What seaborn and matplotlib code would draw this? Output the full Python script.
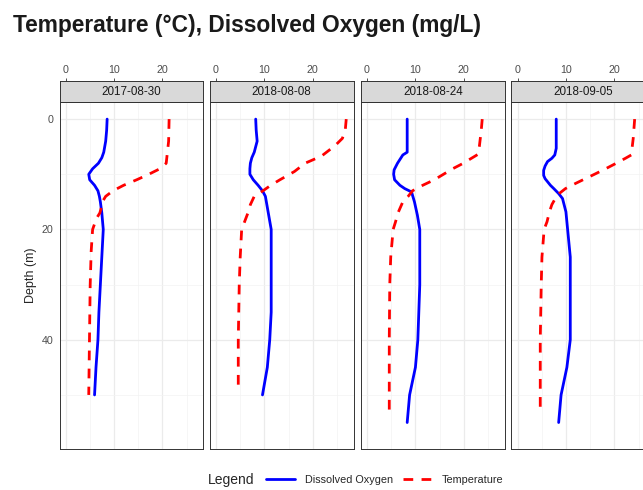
#%%
import numpy as np
import pandas as pd
import seaborn as sns
import matplotlib.pyplot as plt
from matplotlib.lines import Line2D
from matplotlib.ticker import MultipleLocator

sns.set_style("white")
plt.rcParams['font.family'] = ['Liberation Sans', 'DejaVu Sans']

#%%
# profiles, one per sampling date
dates = ["2017-08-30", "2018-08-08", "2018-08-24", "2018-09-05"]

do_depth = [
    [0, 2, 4, 6, 7, 8, 9, 10, 11, 12, 13, 14, 15, 17, 20, 25, 30, 35, 40, 45, 50],
    [0, 2, 4, 6, 7, 8, 9, 10, 11, 12, 13, 14, 20, 25, 30, 35, 40, 45, 50],
    [0, 6, 6.5, 8, 9.2, 10, 11, 12, 12.6, 13.2, 15, 17.4, 20, 30, 35, 40, 45, 50, 55],
    [0, 5.3, 6.5, 7.1, 7.7, 8.5, 9.3, 10.2, 10.8, 12, 12.6, 13.5, 14.4, 16.8, 20, 25, 30, 35, 40, 45, 50, 55],
]
do_vals = [
    [8.6, 8.5, 8.3, 7.9, 7.5, 6.8, 5.6, 4.8, 5.0, 6.0, 6.7, 7.0, 7.2, 7.5, 7.8, 7.5, 7.2, 6.9, 6.7, 6.3, 6.0],
    [8.2, 8.3, 8.5, 7.9, 7.4, 7.1, 7.0, 7.0, 7.7, 8.7, 9.6, 10.2, 11.4, 11.4, 11.4, 11.4, 11.1, 10.6, 9.6],
    [8.3, 8.3, 7.4, 6.3, 5.6, 5.5, 5.7, 6.8, 7.8, 9.2, 9.8, 10.4, 10.9, 10.9, 10.7, 10.5, 10.0, 8.8, 8.3],
    [8.0, 8.0, 7.7, 7.1, 6.2, 5.7, 5.4, 5.4, 5.7, 6.8, 7.5, 8.5, 9.3, 10.0, 10.35, 10.9, 10.9, 10.9, 10.9, 10.2, 9.0, 8.5],
]

temp_depth = [
    [0, 4, 8, 9, 10, 11, 12, 13, 14, 15, 16, 17, 18, 20, 24, 30, 40, 50],
    [0, 2, 3.5, 4.8, 6.7, 8, 9.5, 11, 12, 13, 14, 15.5, 17, 20, 25, 30, 40, 49],
    [0, 2, 5, 6.4, 7.3, 8, 9, 10, 11, 12, 13, 14, 15, 17, 18.6, 20, 25, 30, 40, 53.5],
    [0, 3.5, 6.5, 7.1, 8, 9, 10, 11.1, 12, 12.6, 13.5, 14.4, 15.5, 16.8, 18.6, 20, 25, 30, 40, 53.5],
]
temp_vals = [
    [21.4, 21.3, 20.8, 19.5, 17.2, 14.7, 12.0, 9.8, 8.3, 7.6, 7.4, 7.1, 6.4, 5.6, 5.3, 5.1, 4.95, 4.8],
    [26.9, 26.7, 26.1, 24.6, 21.8, 18.4, 16.2, 13.2, 11.3, 9.7, 7.9, 7.1, 6.6, 5.3, 5.0, 4.8, 4.6, 4.6],
    [23.8, 23.6, 23.2, 22.9, 21.2, 19.9, 17.7, 15.8, 13.9, 11.5, 9.4, 8.5, 7.4, 6.4, 5.9, 5.4, 4.9, 4.7, 4.6, 4.6],
    [24.2, 23.9, 23.5, 22.3, 20.4, 18.2, 15.9, 13.3, 11.2, 9.9, 8.6, 7.8, 7.1, 6.6, 6.1, 5.5, 5.05, 4.9, 4.7, 4.7],
]

rows = []
for i, d in enumerate(dates):
    for z, v in zip(do_depth[i], do_vals[i]):
        rows.append((d, "Dissolved Oxygen", z, v))
    for z, v in zip(temp_depth[i], temp_vals[i]):
        rows.append((d, "Temperature", z, v))
df = pd.DataFrame(rows, columns=["date", "variable", "depth", "value"])

#%%
W, H = 643, 490
fig = plt.figure(figsize=(W / 100, H / 100), dpi=100)

lefts = [59.5, 210, 361, 511.5]
pw = 143.5
top, bottom, strip_top = 102, 449, 81
edge = "#333333"
palette = {"Dissolved Oxygen": "blue", "Temperature": "red"}
dashes = {"Dissolved Oxygen": "", "Temperature": (3.5, 3)}

for i, d in enumerate(dates):
    ax = fig.add_axes([lefts[i] / W, 1 - bottom / H, pw / W, (bottom - top) / H])
    sub = df[df["date"] == d]
    sns.lineplot(data=sub, x="value", y="depth", hue="variable", style="variable",
                 palette=palette, dashes=dashes, sort=False, estimator=None,
                 linewidth=2.0, legend=False, ax=ax)
    ax.set_xlim(-1.24, 28.4)
    ax.set_ylim(59.8, -3.1)
    ax.xaxis.set_major_locator(MultipleLocator(10))
    ax.xaxis.set_minor_locator(MultipleLocator(5))
    ax.yaxis.set_major_locator(MultipleLocator(20))
    ax.yaxis.set_minor_locator(MultipleLocator(10))
    ax.grid(which="major", color="#EBEBEB", lw=0.9)
    ax.grid(which="minor", color="#F3F3F3", lw=0.5)
    ax.set_axisbelow(True)
    for s in ax.spines.values():
        s.set_color(edge)
        s.set_linewidth(0.7)
    ax.set_xlabel("")
    ax.set_ylabel("")
    ax.tick_params(axis="x", which="both", bottom=False, labelbottom=False)
    ax.tick_params(axis="y", which="minor", left=False)
    if i == 0:
        ax.tick_params(axis="y", which="major", length=2.5, width=0.6, color=edge,
                       labelsize=7.7, labelcolor="#4D4D4D", pad=2)
        ax.set_ylabel("Depth (m)", fontsize=9, labelpad=3)
    else:
        ax.tick_params(axis="y", which="both", left=False, labelleft=False)

    sax = fig.add_axes([lefts[i] / W, 1 - top / H, pw / W, (top - strip_top) / H])
    sax.set_facecolor("#D9D9D9")
    sax.set_xlim(-1.24, 28.4)
    sax.set_ylim(0, 1)
    sax.set_yticks([])
    sax.set_xticks([0, 10, 20])
    sax.xaxis.tick_top()
    sax.tick_params(axis="x", length=2.5, width=0.6, color=edge, labelsize=7.7,
                    labelcolor="#4D4D4D", pad=1.5)
    for s in sax.spines.values():
        s.set_color(edge)
        s.set_linewidth(0.7)
    sax.text(0.5, 0.5, d, transform=sax.transAxes, ha="center", va="center",
             fontsize=8.4, color="#1A1A1A")

fig.text(13 / W, 1 - 32 / H, "Temperature (°C), Dissolved Oxygen (mg/L)",
         fontsize=16.4, fontweight="bold", color="#1A1A1A", ha="left", va="baseline")

fig.text(208 / W, 1 - 480 / H, "Legend", fontsize=10, ha="left", va="center")
handles = [Line2D([], [], color="blue", lw=2.0),
           Line2D([], [], color="red", lw=2.0, dashes=(3.5, 3))]
fig.legend(handles, ["Dissolved Oxygen", "Temperature"], loc="center left",
           bbox_to_anchor=(266 / W, 1 - 480 / H), ncol=2, frameon=False,
           fontsize=7.8, handlelength=2.7, handletextpad=0.9, columnspacing=0.9,
           borderpad=0, borderaxespad=0)

fig.savefig("out.png", dpi=100)
